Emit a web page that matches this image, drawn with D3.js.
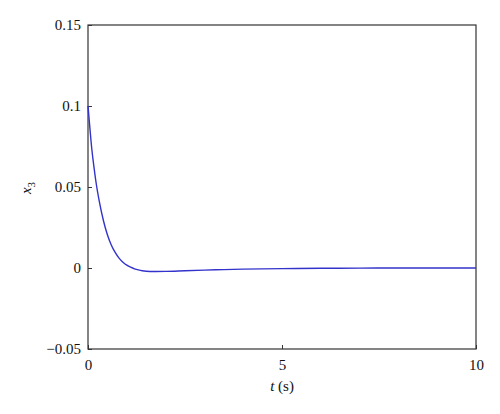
<!DOCTYPE html>
<html>
<head>
<meta charset="utf-8">
<script src="https://cdn.jsdelivr.net/npm/d3@7"></script>
<style>
  body { margin: 0; background: #fff; }
  svg text { font-family: "Liberation Serif", "DejaVu Serif", serif; fill: #111; }
</style>
</head>
<body>
<div id="chart"></div>
<script>
const tValues = [0, 0.05, 0.1, 0.15, 0.2, 0.3, 0.4, 0.5, 0.6, 0.7, 0.8, 0.9, 1.0, 1.1, 1.2, 1.3, 1.4, 1.5, 1.7, 2.0, 2.5, 3.0, 3.5, 4.0, 5.0, 6.0, 7.0, 8.0, 9.0, 10.0];
const x3Values = [0.1, 0.086, 0.073, 0.063, 0.054, 0.040, 0.029, 0.0205, 0.0142, 0.0096, 0.0061, 0.0036, 0.0018, 0.0005, -0.0005, -0.0012, -0.0017, -0.0020, -0.0022, -0.0021, -0.0017, -0.0013, -0.0010, -0.0007, -0.0004, -0.0002, -0.0001, 0, 0, 0];
const xTicks = [0, 5, 10];
const yTicks = [-0.05, 0, 0.05, 0.1, 0.15];

const w = 500, h = 414;
const margin = {left: 88, right: 24, top: 25, bottom: 65};

const svg = d3.select("#chart").append("svg")
    .attr("width", w)
    .attr("height", h);

const x = d3.scaleLinear().domain([0, 10]).range([margin.left, w - margin.right]);
const y = d3.scaleLinear().domain([-0.05, 0.15]).range([h - margin.bottom, margin.top]);

const fmt = d => d < 0 ? "\u2212" + d3.format("~g")(-d) : d3.format("~g")(d);

// frame
svg.append("rect")
    .attr("x", x(0)).attr("y", y(0.15))
    .attr("width", x(10) - x(0)).attr("height", y(-0.05) - y(0.15))
    .attr("fill", "none").attr("stroke", "#333").attr("stroke-width", 1.2);

const xAxis = svg.append("g")
    .attr("transform", `translate(0,${y(-0.05)})`)
    .call(d3.axisBottom(x).tickValues(xTicks).tickSize(-4).tickPadding(10).tickFormat(fmt));
const yAxis = svg.append("g")
    .attr("transform", `translate(${x(0)},0)`)
    .call(d3.axisLeft(y).tickValues(yTicks).tickSize(-4).tickPadding(7).tickFormat(fmt));

[xAxis, yAxis].forEach(a => {
    a.select(".domain").remove();
    a.selectAll(".tick line").attr("stroke", "#333");
    a.selectAll(".tick text").attr("font-size", 15).style("font-family", "Liberation Serif");
});

const line = d3.line()
    .x((d, i) => x(tValues[i]))
    .y(d => y(d))
    .curve(d3.curveMonotoneX);

svg.append("path")
    .datum(x3Values)
    .attr("d", line)
    .attr("fill", "none")
    .attr("stroke", "#3333cc")
    .attr("stroke-width", 1.4);

// axis labels
const xl = svg.append("text")
    .attr("x", x(5)).attr("y", 391)
    .attr("text-anchor", "middle")
    .attr("font-size", 15);
xl.append("tspan").attr("font-style", "italic").text("t");
xl.append("tspan").text(" (s)");

const yl = svg.append("text")
    .attr("transform", `translate(31,188) rotate(-90)`)
    .attr("text-anchor", "middle")
    .attr("font-size", 15);
yl.append("tspan").attr("font-style", "italic").text("x");
yl.append("tspan").attr("font-size", 11).attr("dy", 4).text("3");
</script>
</body>
</html>
